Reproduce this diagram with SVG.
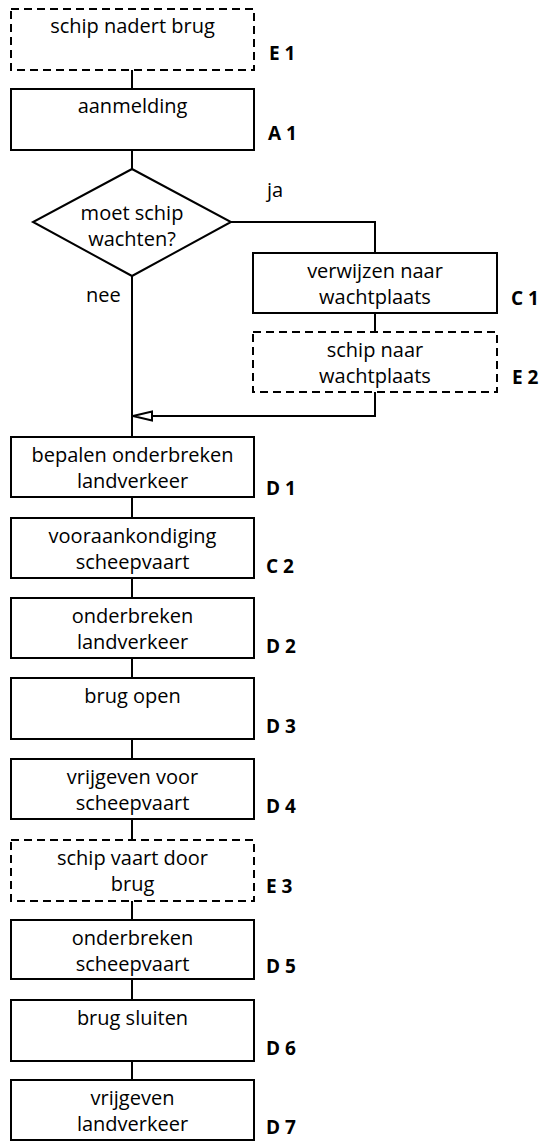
<svg xmlns="http://www.w3.org/2000/svg" width="543" height="1141" viewBox="0 0 543 1141">
<style>
.box{fill:#fff;stroke:#000;stroke-width:2}
.ev{fill:#fff;stroke:#000;stroke-width:2;stroke-dasharray:8 5}
.t{font-family:"Open Sans","Liberation Sans",sans-serif;font-size:20px;fill:#000;text-anchor:middle}
.lb{font-family:"Open Sans","Liberation Sans",sans-serif;font-size:19px;font-weight:bold;fill:#000}
.c{fill:none;stroke:#000;stroke-width:2}
</style>
<rect width="543" height="1141" fill="#fff"/>
<g id="connectors">
<path class="c" d="M132 70V89M132 150V169M231 222H375V253M375 313V332M375 392V416H150M132 276V437M132 497V518M132 578V598M132 658V678M132 739V759M132 819V840M132 901V920M132 979V1000M132 1061V1080"/>
<polygon points="133,416 152,411.5 152,420.5" fill="#fff" stroke="#000" stroke-width="2"/>
</g>
<g id="E1"><rect class="ev" x="11" y="9" width="243" height="61"/><text class="t" x="132.5" y="33">schip nadert brug</text><text class="lb" x="269" y="60">E 1</text></g>
<g id="A1"><rect class="box" x="11" y="89" width="243" height="61"/><text class="t" x="132.5" y="113">aanmelding</text><text class="lb" x="268" y="140">A 1</text></g>
<g id="Q"><polygon class="box" points="132,169 231,222 132,276 33,222"/><text class="t" x="132" y="220">moet schip</text><text class="t" x="132" y="246">wachten?</text></g>
<text class="t" x="267" y="197" style="text-anchor:start">ja</text>
<text class="t" x="86" y="302" style="text-anchor:start">nee</text>
<g id="C1"><rect class="box" x="253" y="253" width="244" height="60"/><text class="t" x="375" y="278">verwijzen naar</text><text class="t" x="375" y="304">wachtplaats</text><text class="lb" x="511" y="305">C 1</text></g>
<g id="E2"><rect class="ev" x="253" y="332" width="244" height="60"/><text class="t" x="375" y="357">schip naar</text><text class="t" x="375" y="383">wachtplaats</text><text class="lb" x="512" y="384">E 2</text></g>
<g id="D1"><rect class="box" x="11" y="437" width="243" height="60"/><text class="t" x="132.5" y="462">bepalen onderbreken</text><text class="t" x="132.5" y="488">landverkeer</text><text class="lb" x="266" y="495">D 1</text></g>
<g id="C2"><rect class="box" x="11" y="518" width="243" height="60"/><text class="t" x="132.5" y="543">vooraankondiging</text><text class="t" x="132.5" y="569">scheepvaart</text><text class="lb" x="266" y="573">C 2</text></g>
<g id="D2"><rect class="box" x="11" y="598" width="243" height="60"/><text class="t" x="132.5" y="623">onderbreken</text><text class="t" x="132.5" y="649">landverkeer</text><text class="lb" x="266" y="653">D 2</text></g>
<g id="D3"><rect class="box" x="11" y="678" width="243" height="61"/><text class="t" x="132.5" y="703">brug open</text><text class="lb" x="266" y="733">D 3</text></g>
<g id="D4"><rect class="box" x="11" y="759" width="243" height="60"/><text class="t" x="132.5" y="784">vrijgeven voor</text><text class="t" x="132.5" y="810">scheepvaart</text><text class="lb" x="266" y="813">D 4</text></g>
<g id="E3"><rect class="ev" x="11" y="840" width="243" height="61"/><text class="t" x="132.5" y="865">schip vaart door</text><text class="t" x="132.5" y="891">brug</text><text class="lb" x="266" y="893">E 3</text></g>
<g id="D5"><rect class="box" x="11" y="920" width="243" height="59"/><text class="t" x="132.5" y="945">onderbreken</text><text class="t" x="132.5" y="971">scheepvaart</text><text class="lb" x="266" y="973">D 5</text></g>
<g id="D6"><rect class="box" x="11" y="1000" width="243" height="61"/><text class="t" x="132.5" y="1025">brug sluiten</text><text class="lb" x="266" y="1055">D 6</text></g>
<g id="D7"><rect class="box" x="11" y="1080" width="243" height="60"/><text class="t" x="132.5" y="1105">vrijgeven</text><text class="t" x="132.5" y="1131">landverkeer</text><text class="lb" x="266" y="1134">D 7</text></g>
</svg>
